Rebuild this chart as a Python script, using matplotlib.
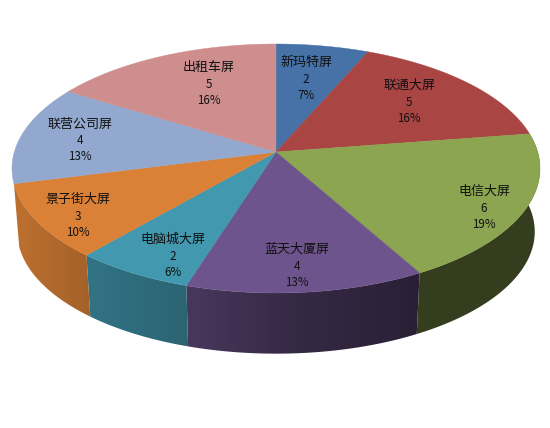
import numpy as np
import matplotlib
matplotlib.use("Agg")
import matplotlib.pyplot as plt
from matplotlib.patches import Polygon

plt.rcParams["font.family"] = ["Noto Sans CJK SC", "DejaVu Sans"]

NAMES = ["新玛特屏", "联通大屏", "电信大屏", "蓝天大厦屏", "电脑城大屏", "景子街大屏", "联营公司屏", "出租车屏"]
VALUES = [2, 5, 6, 4, 2, 3, 4, 5]
PERCENTS = ["7%", "16%", "19%", "13%", "6%", "10%", "13%", "16%"]
COLORS = ["#4672a8", "#a94543", "#8ba550", "#6e548d", "#4298af", "#da8137", "#93a8ce", "#ce8e8d"]

# label centres in pixels, the chart's own layout
LABEL_XY = [(306, 79), (409, 102), (484, 208), (297, 266), (173, 256), (78, 216), (80, 141), (209, 84)]
FRONT = [2, 3, 4, 5]  # slices whose side wall shows

CX, CY = 276, 152
TILT = 0.1325
RX, RY = 261.7, 122.3
DEPTH_Y = 215.5
DEPTH_SCALE = 0.98


def rim(theta, scale=1.0, y0=CY):
    # unit circle seen in perspective, angle runs clockwise from the top
    u, v = np.sin(theta), np.cos(theta)
    w = 1 + TILT * v
    return CX + scale * RX * u / w, y0 - scale * RY * v / w


def shade(x):
    return np.interp(x, [20, 85, 186, 300, 421], [0.86, 0.76, 0.66, 0.48, 0.38])


fig = plt.figure(figsize=(5.5, 4.28), dpi=100)
ax = fig.add_axes([0, 0, 1, 1])

edges = np.cumsum([0] + VALUES) / sum(VALUES) * 2 * np.pi

# side wall first, the top covers whatever is left behind it
for i in FRONT:
    t = np.linspace(edges[i], edges[i + 1], 80)
    x1, y1 = rim(t)
    x2, y2 = rim(t[::-1], DEPTH_SCALE, DEPTH_Y)
    wall = Polygon(np.c_[np.r_[x1, x2], np.r_[y1, y2]], closed=True, fc="none", ec="none")
    ax.add_patch(wall)

    left, right = min(x1.min(), x2.min()), max(x1.max(), x2.max())
    xs = np.linspace(left, right, 100)
    grad = np.outer(shade(xs), matplotlib.colors.to_rgb(COLORS[i]))[np.newaxis, :, :]
    img = ax.imshow(grad, extent=[left, right, 428, 0], aspect="auto", interpolation="bilinear")
    img.set_clip_path(wall)

for i, color in enumerate(COLORS):
    t = np.linspace(edges[i], edges[i + 1], 80)
    x, y = rim(t)
    ax.fill(np.r_[CX, x], np.r_[CY, y], color=color, lw=0.3)

for name, val, pct, (lx, ly) in zip(NAMES, VALUES, PERCENTS, LABEL_XY):
    ax.text(lx, ly - 17, name, ha="center", va="center", fontsize=9.4, color="#111111")
    ax.text(lx, ly, str(val), ha="center", va="center", fontsize=8.4, color="#111111")
    ax.text(lx, ly + 16, pct, ha="center", va="center", fontsize=8.4, color="#111111")

ax.set_xlim(0, 550)
ax.set_ylim(428, 0)
ax.axis("off")

fig.savefig("out.png", dpi=100)
plt.close()
